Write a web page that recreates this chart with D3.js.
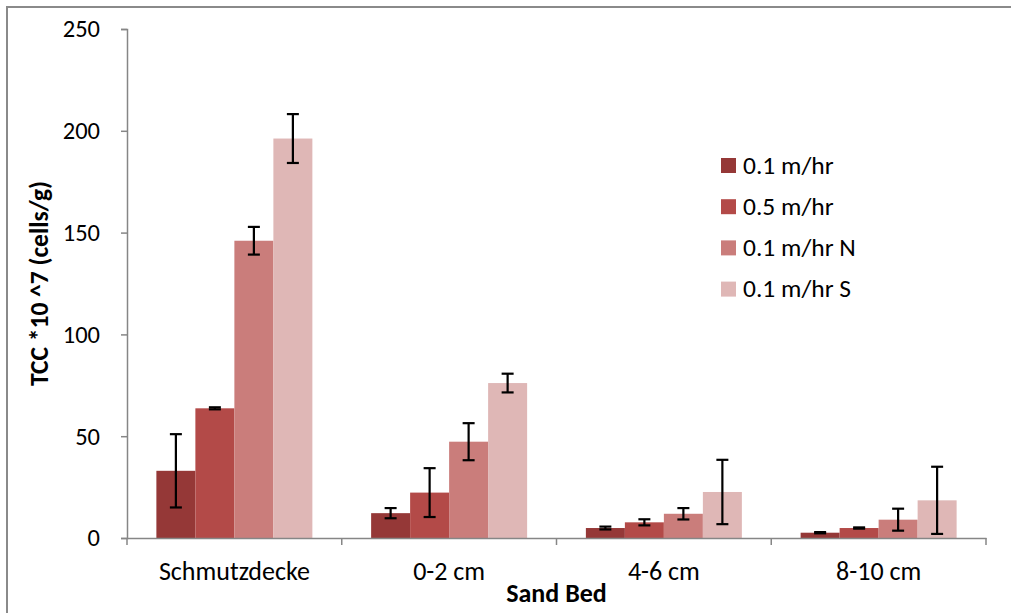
<!DOCTYPE html>
<html>
<head>
<meta charset="utf-8">
<script src="https://cdn.jsdelivr.net/npm/d3@7"></script>
<style>
  html, body { margin: 0; padding: 0; background: #ffffff; }
  svg { display: block; }
  text { font-family: "Carlito", "Liberation Sans", Arial, sans-serif; fill: #000; }
</style>
</head>
<body>
<svg id="chart" width="1011" height="613"></svg>
<script>
// ---- data ----
const categories = ["Schmutzdecke", "0-2 cm", "4-6 cm", "8-10 cm"];
const seriesNames = ["0.1 m/hr", "0.5 m/hr", "0.1 m/hr N", "0.1 m/hr S"];
const values_01 = [33, 12.2, 4.9, 2.6];
const values_05 = [63.7, 22.3, 7.7, 4.9];
const values_01N = [146, 47.3, 11.9, 9.0];
const values_01S = [196.2, 76.1, 22.6, 18.5];
const errors_01 = [18, 2.5, 0.7, 0.3];
const errors_05 = [0.5, 12, 1.5, 0.3];
const errors_01N = [6.8, 9.1, 2.8, 5.4];
const errors_01S = [12, 4.6, 15.8, 16.5];
const yTicks = [0, 50, 100, 150, 200, 250];
const colors = ["#953837", "#B34A48", "#CA7D7B", "#DFB7B6"];

const seriesValues = [values_01, values_05, values_01N, values_01S];
const seriesErrors = [errors_01, errors_05, errors_01N, errors_01S];

const svg = d3.select("#chart");

// outer chart frame (only top and left edges visible)
svg.append("rect")
  .attr("x", 7).attr("y", 7)
  .attr("width", 1020).attr("height", 620)
  .attr("fill", "none").attr("stroke", "#8a8a8a").attr("stroke-width", 2);

const plot = { left: 127, right: 986, top: 29, bottom: 538 };

const y = d3.scaleLinear().domain([0, 250]).range([plot.bottom, plot.top]);
const p = 0.2736;
const x0 = d3.scaleBand().domain(categories).range([plot.left, plot.right])
  .paddingInner(p).paddingOuter(p / 2);
const x1 = d3.scaleBand().domain(seriesNames).range([0, x0.bandwidth()]).padding(0);

// bars
seriesNames.forEach((s, si) => {
  const g = svg.append("g");
  g.selectAll("rect").data(categories).join("rect")
    .attr("x", c => x0(c) + x1(s))
    .attr("y", (c, i) => y(seriesValues[si][i]))
    .attr("width", x1.bandwidth())
    .attr("height", (c, i) => y(0) - y(seriesValues[si][i]))
    .attr("fill", colors[si]);
});

// error bars
seriesNames.forEach((s, si) => {
  const g = svg.append("g").attr("stroke", "#000").attr("stroke-width", 2.2);
  categories.forEach((c, i) => {
    const cx = x0(c) + x1(s) + x1.bandwidth() / 2;
    const v = seriesValues[si][i], e = seriesErrors[si][i];
    const yHi = y(v + e), yLo = y(Math.max(0, v - e));
    g.append("line").attr("x1", cx).attr("x2", cx).attr("y1", yHi).attr("y2", yLo);
    g.append("line").attr("x1", cx - 6).attr("x2", cx + 6).attr("y1", yHi).attr("y2", yHi);
    g.append("line").attr("x1", cx - 6).attr("x2", cx + 6).attr("y1", yLo).attr("y2", yLo);
  });
});

// y axis
const yAxis = d3.axisLeft(y).tickValues(yTicks).tickSize(6).tickPadding(21);
const gy = svg.append("g").attr("transform", `translate(${plot.left},0)`).call(yAxis);
gy.select(".domain").attr("stroke", "#868686").attr("stroke-width", 1.5);
gy.selectAll(".tick line").attr("stroke", "#868686").attr("stroke-width", 1.5);
gy.selectAll(".tick text").attr("font-size", 24.5).attr("font-family", null).attr("fill", "#000");

// x axis
const xAxis = d3.axisBottom(x0).tickSize(0).tickPadding(24);
const gx = svg.append("g").attr("transform", `translate(0,${plot.bottom})`).call(xAxis);
gx.select(".domain").attr("stroke", "#868686").attr("stroke-width", 1.5);
gx.selectAll(".tick text").attr("font-size", 26).attr("font-family", null).attr("fill", "#000");
// category boundary ticks
const boundaries = d3.range(categories.length + 1).map(i => plot.left + i * x0.step());
gx.selectAll("line.sep").data(boundaries).join("line")
  .attr("class", "sep")
  .attr("x1", d => d).attr("x2", d => d).attr("y1", 0).attr("y2", 7)
  .attr("stroke", "#868686").attr("stroke-width", 1.5);

// axis titles
svg.append("text")
  .attr("x", (plot.left + plot.right) / 2).attr("y", 602)
  .attr("text-anchor", "middle").attr("font-size", 26).attr("font-weight", "bold")
  .text("Sand Bed");
svg.append("text")
  .attr("transform", `translate(48,${(plot.top + plot.bottom) / 2}) rotate(-90)`)
  .attr("text-anchor", "middle").attr("font-size", 25.5).attr("font-weight", "bold")
  .text("TCC *10 ^7 (cells/g)");

// legend
const legend = svg.append("g").attr("transform", "translate(721,158)");
seriesNames.forEach((s, i) => {
  const row = legend.append("g").attr("transform", `translate(0,${i * 41.2})`);
  row.append("rect").attr("width", 15).attr("height", 15).attr("fill", colors[i]);
  row.append("text").attr("x", 22).attr("y", 15.5).attr("font-size", 25.5).text(s);
});
</script>
</body>
</html>
